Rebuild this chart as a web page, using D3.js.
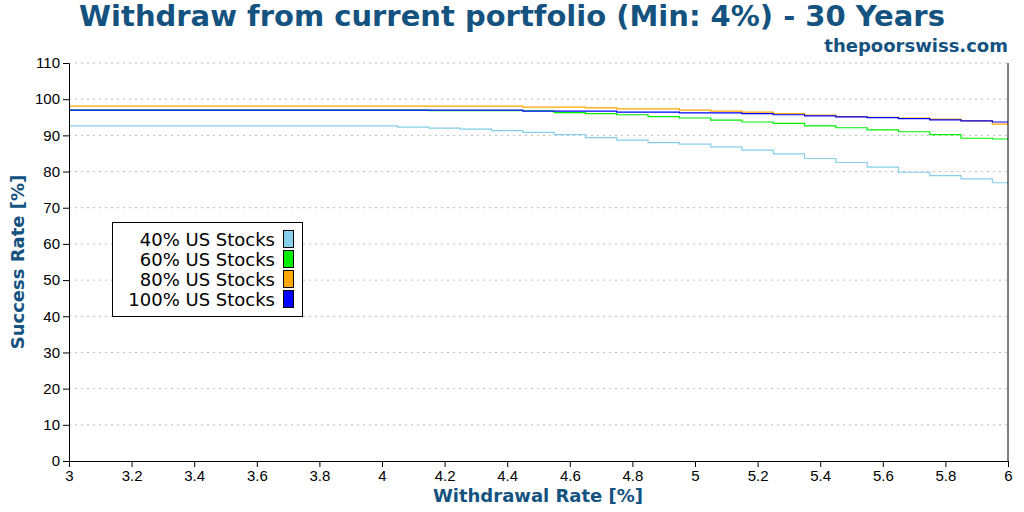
<!DOCTYPE html>
<html><head><meta charset="utf-8">
<script src="https://cdn.jsdelivr.net/npm/d3@7"></script>
<style>body{margin:0;background:#fff}svg{font-family:"DejaVu Sans",sans-serif}</style>
</head><body><svg width="1024" height="512"></svg>
<script>
var rates = [3.0,3.2,3.4,3.6,3.8,4.0,4.1,4.2,4.3,4.4,4.5,4.6,4.7,4.8,4.9,5.0,5.1,5.2,5.3,5.4,5.5,5.6,5.7,5.8,5.9,6.0];
var stocks40 = [92.6,92.6,92.6,92.6,92.6,92.6,92.3,92.0,91.7,91.3,90.8,90.2,89.4,88.7,88.0,87.6,86.8,85.9,84.9,83.6,82.5,81.2,79.8,78.9,78.0,76.9];
var stocks60 = [97.0,97.0,97.0,97.0,97.0,97.0,97.0,96.8,96.8,96.8,96.8,96.3,96.0,95.7,95.2,94.8,94.2,93.7,93.3,92.6,92.1,91.5,91.0,90.2,89.2,89.0];
var stocks80 = [98.1,98.1,98.1,98.1,98.1,98.1,98.1,98.1,98.1,98.1,97.8,97.8,97.6,97.3,97.3,97.0,96.7,96.4,96.0,95.6,95.2,95.0,94.8,94.5,94.0,93.1];
var stocks100 = [97.0,97.0,97.0,97.0,97.0,97.0,97.0,97.0,97.0,97.0,96.7,96.7,96.7,96.4,96.4,96.2,96.2,96.0,95.7,95.4,95.1,94.9,94.6,94.3,94.0,93.7];
var seriesNames = ["40% US Stocks","60% US Stocks","80% US Stocks","100% US Stocks"];
var seriesColors = ["#87ceeb","#00ee00","#ffa500","#0000ff"];
var xTicks = [3,3.2,3.4,3.6,3.8,4,4.2,4.4,4.6,4.8,5,5.2,5.4,5.6,5.8,6];
var yTicks = d3.range(0,111,10);

var svg = d3.select("svg");
var blue = "#14527f";
var x = d3.scaleLinear().domain([3,6]).range([69,1008]);
var y = d3.scaleLinear().domain([0,110]).range([461,63]);

// grid
svg.append("g").selectAll("line").data(yTicks.slice(1)).enter().append("line")
    .attr("x1",69).attr("x2",1008).attr("y1",d=>y(d)).attr("y2",d=>y(d))
    .attr("stroke","#bbb").attr("stroke-dasharray","2,4");

var all = [stocks40,stocks60,stocks80,stocks100];
var line = d3.line().x((d,i)=>x(rates[i])).y(d=>y(d)).curve(d3.curveStep);
[0,1,2,3].forEach(function(k){
    svg.append("path").datum(all[k]).attr("d",line)
        .attr("fill","none").attr("stroke",seriesColors[k]).attr("stroke-width",1.2);
});

svg.append("g").attr("transform","translate(0,461)")
    .call(d3.axisBottom(x).tickValues(xTicks).tickFormat(d3.format("~g")).tickSizeOuter(0))
    .call(g=>g.selectAll("text").attr("font-size",15).attr("fill","#000"));
svg.append("g").attr("transform","translate(69,0)")
    .call(d3.axisLeft(y).tickValues(yTicks).tickSizeOuter(0))
    .call(g=>g.selectAll("text").attr("font-size",15).attr("fill","#000"));
svg.append("line").attr("x1",1008).attr("x2",1008).attr("y1",63).attr("y2",461).attr("stroke","#000");

svg.append("text").attr("x",512).attr("y",26).attr("text-anchor","middle")
    .attr("font-size",29).attr("font-weight","bold").attr("fill",blue)
    .text("Withdraw from current portfolio (Min: 4%) - 30 Years");
svg.append("text").attr("x",1008).attr("y",52).attr("text-anchor","end")
    .attr("font-size",18).attr("font-weight","bold").attr("fill",blue).text("thepoorswiss.com");
svg.append("text").attr("x",538).attr("y",502).attr("text-anchor","middle")
    .attr("font-size",18).attr("font-weight","bold").attr("fill",blue).text("Withdrawal Rate [%]");
svg.append("text").attr("transform","translate(24,262) rotate(-90)").attr("text-anchor","middle")
    .attr("font-size",18).attr("font-weight","bold").attr("fill",blue).text("Success Rate [%]");

// legend
svg.append("rect").attr("x",112.5).attr("y",222.5).attr("width",190).attr("height",94)
    .attr("fill","#fff").attr("stroke","#000");
seriesNames.forEach(function(n,i){
    svg.append("text").attr("x",275).attr("y",246+i*20).attr("text-anchor","end")
        .attr("font-size",18).text(n);
    svg.append("rect").attr("x",283.5).attr("y",230.5+i*20).attr("width",10).attr("height",17)
        .attr("fill",seriesColors[i]).attr("stroke","#000");
});
</script></body></html>
